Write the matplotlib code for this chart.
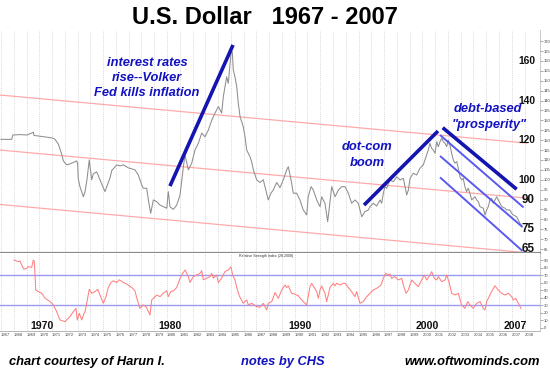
import matplotlib
matplotlib.use("Agg")
import matplotlib.pyplot as plt
import matplotlib.transforms as mtransforms

plt.rcParams['font.family'] = ['Liberation Sans', 'DejaVu Sans']

# ---------------- data ----------------
price_years = [1967.00, 1967.84, 1967.92, 1968.49, 1969.04, 1969.53, 1969.58, 1970.05, 1970.60, 1971.07,
               1971.23, 1971.49, 1971.75, 1971.88, 1972.14, 1972.40, 1972.93, 1973.00, 1973.05, 1973.18,
               1973.45, 1973.58, 1973.73, 1973.91, 1974.10, 1974.23, 1974.49, 1974.75, 1975.01, 1975.14,
               1975.28, 1975.54, 1975.67, 1976.06, 1976.32, 1976.58, 1976.97, 1977.49, 1977.75, 1978.02,
               1978.14, 1978.41, 1978.54, 1978.72, 1978.93, 1979.19, 1979.45, 1979.71, 1979.98, 1980.10,
               1980.23, 1980.49, 1980.76, 1981.02, 1981.28, 1981.41, 1981.67, 1981.93, 1982.19, 1982.45,
               1982.72, 1982.97, 1983.23, 1983.50, 1983.76, 1984.02, 1984.28, 1984.41, 1984.67, 1984.80,
               1985.01, 1985.11, 1985.19, 1985.32, 1985.46, 1985.58, 1985.72, 1985.97, 1986.11, 1986.24,
               1986.50, 1986.63, 1986.76, 1987.02, 1987.28, 1987.54, 1987.67, 1987.93, 1988.14, 1988.32,
               1988.59, 1988.85, 1989.11, 1989.37, 1989.50, 1989.71, 1989.89, 1990.15, 1990.41, 1990.67,
               1990.94, 1991.06, 1991.28, 1991.46, 1991.72, 1991.98, 1992.11, 1992.37, 1992.58, 1992.69,
               1992.90, 1993.16, 1993.42, 1993.68, 1993.94, 1994.20, 1994.46, 1994.72, 1994.98, 1995.25,
               1995.50, 1995.76, 1995.90, 1996.15, 1996.42, 1996.68, 1996.81, 1996.94, 1997.07, 1997.20,
               1997.46, 1997.72, 1997.99, 1998.25, 1998.51, 1998.64, 1998.77, 1998.90, 1999.03, 1999.29,
               1999.55, 1999.81, 2000.07, 2000.20, 2000.46, 2000.59, 2000.72, 2000.85, 2000.99, 2001.12,
               2001.25, 2001.38, 2001.51, 2001.64, 2001.77, 2001.90, 2002.03, 2002.16, 2002.29, 2002.42,
               2002.55, 2002.69, 2002.81, 2002.94, 2003.07, 2003.20, 2003.33, 2003.46, 2003.59, 2003.72,
               2003.86, 2004.12, 2004.25, 2004.38, 2004.51, 2004.77, 2004.90, 2005.03, 2005.16, 2005.29,
               2005.42, 2005.55, 2005.68, 2005.82, 2005.94, 2006.08, 2006.21, 2006.47, 2006.60, 2006.86,
               2006.99, 2007.12, 2007.38, 2007.51, 2007.64, 2007.78]
price_values = [120.4, 120.4, 122.6, 122.8, 122.6, 124.0, 122.4, 122.0, 121.5, 121.0,
                120.4, 118.0, 113.0, 109.5, 107.5, 108.0, 109.5, 108.0, 100.5, 96.5,
                91.4, 94.0, 100.0, 110.0, 100.0, 103.0, 104.0, 100.0, 96.0, 94.0,
                96.5, 101.0, 104.6, 107.5, 107.0, 107.5, 106.0, 105.0, 102.4, 97.4,
                95.7, 95.7, 89.8, 83.0, 89.8, 88.9, 87.2, 86.4, 85.6, 94.0,
                86.4, 85.0, 87.2, 92.3, 106.6, 112.5, 105.0, 108.3, 115.0, 118.4,
                123.6, 121.7, 125.0, 130.0, 133.7, 137.0, 133.7, 142.0, 152.0, 148.7,
                164.0, 164.7, 155.5, 152.0, 147.0, 138.8, 131.9, 126.8, 121.7, 115.0,
                111.6, 109.0, 105.0, 100.0, 98.6, 100.0, 96.5, 89.8, 93.2, 94.8,
                98.6, 96.0, 100.0, 105.0, 106.6, 100.0, 93.2, 93.2, 89.8, 84.7,
                82.2, 91.4, 96.5, 94.8, 89.8, 86.4, 91.4, 88.1, 78.8, 84.7,
                96.5, 91.4, 94.8, 96.5, 96.5, 93.2, 88.1, 89.8, 88.1, 81.3,
                83.9, 84.7, 86.4, 88.1, 86.7, 89.8, 88.1, 93.2, 96.5, 95.7,
                99.9, 99.0, 101.5, 99.9, 100.7, 96.5, 92.3, 94.8, 100.7, 103.3,
                102.4, 105.8, 107.5, 110.0, 115.0, 118.4, 115.9, 115.0, 113.4, 119.2,
                116.7, 119.2, 121.0, 119.2, 118.4, 116.7, 120.0, 117.5, 113.4, 110.0,
                108.4, 109.2, 105.8, 101.5, 99.9, 100.7, 96.5, 94.0, 95.7, 93.2,
                89.8, 91.4, 89.8, 88.9, 86.4, 85.6, 82.2, 84.7, 86.4, 89.8,
                90.6, 88.1, 89.8, 91.4, 89.8, 88.1, 86.4, 85.6, 84.7, 84.7,
                83.0, 82.2, 81.3, 79.7, 78.0, 76.6]

rsi_years = [1968.02, 1968.35, 1968.49, 1968.62, 1968.80, 1969.01, 1969.14, 1969.40, 1969.53, 1969.61,
             1969.72, 1969.92, 1970.19, 1970.45, 1970.84, 1971.10, 1971.36, 1971.62, 1972.01, 1972.40,
             1972.66, 1972.87, 1972.97, 1973.13, 1973.32, 1973.45, 1973.58, 1973.71, 1973.91, 1974.10,
             1974.36, 1974.57, 1974.75, 1975.01, 1975.22, 1975.40, 1975.61, 1975.79, 1976.06, 1976.26,
             1976.58, 1976.84, 1977.24, 1977.49, 1977.67, 1977.88, 1978.14, 1978.35, 1978.54, 1978.67,
             1978.80, 1978.93, 1979.19, 1979.45, 1979.71, 1979.98, 1980.10, 1980.29, 1980.49, 1980.76,
             1981.02, 1981.23, 1981.41, 1981.67, 1981.80, 1982.06, 1982.32, 1982.58, 1982.72, 1982.84,
             1983.11, 1983.37, 1983.50, 1983.63, 1983.89, 1984.02, 1984.28, 1984.54, 1984.80, 1985.01,
             1985.14, 1985.32, 1985.46, 1985.66, 1985.97, 1986.24, 1986.37, 1986.63, 1987.02, 1987.28,
             1987.54, 1987.81, 1987.93, 1988.20, 1988.46, 1988.72, 1988.98, 1989.24, 1989.37, 1989.50,
             1989.76, 1990.02, 1990.28, 1990.55, 1990.81, 1990.94, 1991.06, 1991.20, 1991.33, 1991.53,
             1991.72, 1991.85, 1991.98, 1992.11, 1992.37, 1992.50, 1992.63, 1992.76, 1993.02, 1993.16,
             1993.29, 1993.55, 1993.81, 1993.94, 1994.20, 1994.46, 1994.72, 1994.85, 1995.11, 1995.37,
             1995.64, 1995.90, 1996.15, 1996.42, 1996.76, 1996.94, 1997.12, 1997.33, 1997.46, 1997.59,
             1997.85, 1998.11, 1998.38, 1998.51, 1998.72, 1998.90, 1999.16, 1999.42, 1999.68, 1999.94,
             2000.15, 2000.34, 2000.54, 2000.73, 2000.93, 2001.12, 2001.25, 2001.51, 2001.77, 2001.90,
             2002.08, 2002.29, 2002.55, 2002.81, 2003.07, 2003.33, 2003.55, 2003.72, 2003.99, 2004.25,
             2004.51, 2004.77, 2004.90, 2005.03, 2005.16, 2005.42, 2005.68, 2005.94, 2006.20, 2006.47,
             2006.73, 2006.99, 2007.12, 2007.31, 2007.51, 2007.72]
rsi_values = [90.4, 88.2, 89.1, 83.7, 78.0, 79.3, 81.5, 80.6, 90.4, 88.2,
              50.4, 48.2, 46.0, 39.3, 34.9, 30.4, 21.5, 10.4, 8.2, 14.9,
              21.5, 25.9, 10.4, 19.3, 10.4, 17.0, 21.5, 32.6, 51.3, 46.0,
              48.2, 51.3, 43.7, 32.6, 41.5, 53.7, 60.4, 62.6, 60.4, 64.0,
              60.4, 58.2, 53.7, 49.3, 37.1, 25.9, 30.4, 28.2, 21.5, 17.0,
              37.1, 39.3, 43.7, 41.5, 46.0, 49.3, 41.5, 48.2, 49.3, 53.7,
              65.9, 72.6, 77.0, 68.2, 60.4, 68.2, 70.4, 72.6, 76.1, 64.0,
              66.2, 68.2, 72.6, 66.2, 70.4, 60.4, 66.2, 75.0, 77.0, 81.3,
              70.4, 64.0, 53.7, 42.6, 32.6, 37.1, 30.4, 32.6, 28.2, 27.3,
              32.6, 23.7, 32.6, 34.9, 47.0, 39.3, 50.4, 57.0, 53.7, 55.9,
              46.0, 44.8, 42.6, 37.1, 32.6, 30.4, 41.5, 54.8, 59.3, 53.7,
              48.2, 39.3, 50.4, 55.9, 46.0, 34.9, 43.7, 53.7, 59.3, 55.9,
              59.3, 57.0, 59.3, 59.3, 53.7, 48.2, 41.5, 48.2, 32.6, 34.9,
              41.5, 46.0, 50.4, 52.6, 57.0, 65.9, 72.6, 70.4, 71.7, 65.9,
              68.2, 63.7, 65.9, 57.0, 46.0, 50.4, 63.7, 59.3, 54.8, 63.7,
              70.4, 63.7, 69.0, 74.8, 65.9, 63.7, 68.2, 61.5, 63.7, 70.4,
              61.5, 46.0, 43.7, 46.0, 30.4, 25.9, 34.9, 30.4, 25.9, 32.6,
              34.9, 25.9, 23.7, 34.9, 39.3, 48.2, 56.0, 50.4, 46.0, 43.7,
              46.0, 41.5, 37.1, 39.3, 32.6, 25.9]

# trend-line endpoints (year, value)
red_channel = [((1966.92, 142.8), (2008.19, 118.5)),
               ((1966.92, 115.0), (2008.19, 90.7)),
               ((1966.92, 87.5), (2008.19, 63.1))]
thick_blue = [((1980.23, 96.8), (1985.17, 168.1)),
              ((1995.43, 87.2), (2001.22, 124.6)),
              ((2001.59, 126.3), (2007.38, 95.2))]
thin_blue = [((2001.38, 122.6), (2007.92, 86.0)),
             ((2001.38, 112.0), (2007.84, 76.1)),
             ((2001.38, 101.2), (2007.84, 64.0))]

year_ticks = list(range(1967, 2009))
price_ticks = list(range(65, 171, 5))
rsi_ticks = list(range(0, 91, 10))
bold_levels = [160, 140, 120, 100, 90, 75, 65]
rsi_levels = [70, 30]
decade_labels = [("1970", 1970.2), ("1980", 1980.25), ("1990", 1990.4), ("2000", 2000.4), ("2007", 2007.3)]

# ---------------- figure ----------------
W, H = 550, 377
fig = plt.figure(figsize=(W / 100, H / 100), dpi=100)
fig.patch.set_facecolor('white')

def fy(py):
    return 1 - py / H

ax = fig.add_axes([0, fy(253), 540 / W, (253 - 30) / H])
ax2 = fig.add_axes([0, fy(331), 540 / W, (331 - 253) / H], sharex=ax)

xl = (1966.92, 2009.21)
ax.set_xlim(*xl)
ax.set_ylim(62.98, 175.66)
ax2.set_ylim(-4.3, 99.7)

grid_kw = dict(color='#c8c8c8', lw=0.6, ls=(0, (1, 1.6)))
for a in (ax, ax2):
    a.set_xticks(year_ticks)
    a.grid(axis='x', **grid_kw)
    a.set_axisbelow(True)
    a.spines['left'].set_visible(False)
    a.spines['top'].set_visible(False)
    a.spines['right'].set_color('#b0b0b0')
    a.spines['right'].set_linestyle((0, (1, 1.5)))
    a.spines['right'].set_linewidth(0.6)
    a.yaxis.tick_right()
    a.tick_params(axis='y', labelsize=3, length=2, width=0.5, color='#888888',
                  labelcolor='#444444', pad=1)

ax.spines['bottom'].set_color('#8c8c8c')
ax.spines['bottom'].set_linewidth(1.6)
ax.tick_params(axis='x', length=0, labelbottom=False)
ax.set_yticks(price_ticks)

ax2.spines['bottom'].set_color('#aaaaaa')
ax2.spines['bottom'].set_linewidth(0.6)
ax2.spines['bottom'].set_linestyle((0, (2, 1)))
ax2.set_yticks(rsi_ticks)
ax2.tick_params(axis='x', length=0, labelsize=3, pad=1.5, labelcolor='#444444')
ax2.set_xticklabels([str(y) for y in year_ticks])
for lab in ax2.get_xticklabels():
    lab.set_ha('left')

# red channel
for (x0, y0), (x1, y1) in red_channel:
    ax.plot([x0, x1], [y0, y1], color='#ffaaaa', lw=0.9, zorder=2)

# price
ax.plot(price_years, price_values, color='#8e8e8e', lw=0.75, zorder=3)

# blue lines
for (x0, y0), (x1, y1) in thin_blue:
    ax.plot([x0, x1], [y0, y1], color='#5a5af0', lw=1.4, zorder=4, solid_capstyle='butt')
for (x0, y0), (x1, y1) in thick_blue:
    ax.plot([x0, x1], [y0, y1], color='#1414b0', lw=2.6, zorder=5, solid_capstyle='butt')

# bold level labels
trans = mtransforms.blended_transform_factory(ax.transAxes, ax.transData)
for v in bold_levels:
    fs = 7.4 if v >= 100 else 8.4
    ax.text(535 / 540, v, str(v), transform=trans, ha='right', va='center',
            fontsize=fs, fontweight='bold', color='#111111', zorder=6)

# RSI panel
for lv in rsi_levels:
    ax2.axhline(lv, color='#9a9af0', lw=1.0, zorder=2)
ax2.plot(rsi_years, rsi_values, color='#ff8080', lw=0.75, zorder=3)
fig.text(239 / W, fy(256.5), "Relative Strength Index (28.2008)", fontsize=2.6,
         color='#333333', ha='left', va='center')

dec_trans = mtransforms.blended_transform_factory(ax2.transData, ax2.transAxes)
for lab, xv in decade_labels:
    ax2.text(xv, 1 - (326 - 253) / (331 - 253), lab, transform=dec_trans,
             fontsize=7.6, fontweight='bold', ha='center', va='center', color='#111111')

# title
fig.text(265 / W, fy(17.5), "U.S. Dollar   1967 - 2007", fontsize=17, fontweight='bold',
         ha='center', va='center', color='black')

# annotations
blue = '#1212c0'
ann = [("interest rates", 147, 63), ("rise--Volker", 147, 78), ("Fed kills inflation", 147, 92.5),
       ("dot-com", 367, 147.5), ("boom", 367, 162.5),
       ("debt-based", 488, 109.5), ('"prosperity"', 489, 125)]
for s, px, py in ann:
    fig.text(px / W, fy(py), s, fontsize=9.3, fontweight='bold', fontstyle='italic',
             color=blue, ha='center', va='center')

fig.text(9 / W, fy(362), "chart courtesy of Harun I.", fontsize=9.3, fontweight='bold',
         fontstyle='italic', color='black', ha='left', va='center')
fig.text(283 / W, fy(362), "notes by CHS", fontsize=9.3, fontweight='bold',
         fontstyle='italic', color=blue, ha='center', va='center')
fig.text(540 / W, fy(362), "www.oftwominds.com", fontsize=9.3, fontweight='bold',
         fontstyle='italic', color='black', ha='right', va='center')

fig.savefig("out.png", dpi=100, facecolor='white')
